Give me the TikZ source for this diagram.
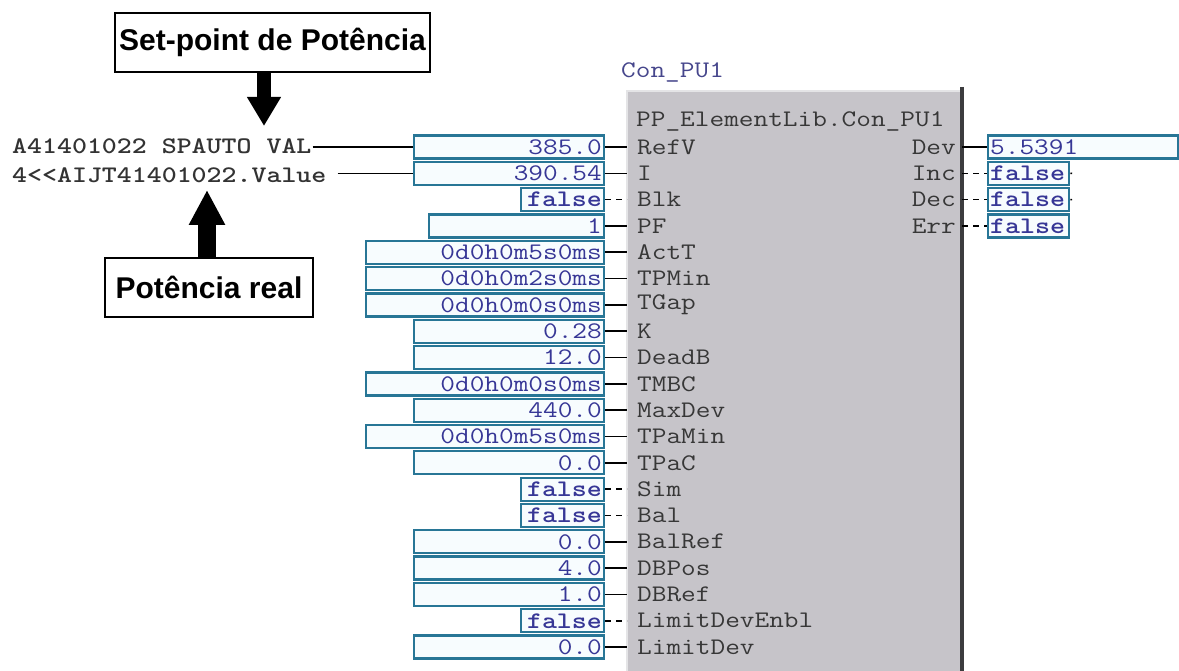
\documentclass[tikz,border=0pt]{standalone}
\usepackage{fontspec}
\usepackage{graphicx}
\newfontfamily\calloutfont{Liberation Sans}
\usetikzlibrary{arrows.meta}
\definecolor{boxborder}{RGB}{40,118,150}
\definecolor{boxfill}{RGB}{247,252,254}
\definecolor{valtext}{RGB}{55,55,150}
\definecolor{blockfill}{RGB}{198,196,201}
\definecolor{blockedge}{RGB}{228,228,230}
\definecolor{blockdark}{RGB}{60,60,62}
\definecolor{labeltext}{RGB}{55,55,55}
\definecolor{titletext}{RGB}{70,70,140}
\newcommand\mtx[1]{\scalebox{1.14}[0.95]{#1}}
\begin{document}
\begin{tikzpicture}[x=1pt,y=-1pt,
  monofont/.style={font=\fontsize{25}{25}\selectfont\ttfamily},
  vbox/.style={draw=boxborder, line width=2.3pt, fill=boxfill, minimum height=23pt,
    inner xsep=2pt, inner ysep=0pt, text=valtext, monofont},
  lbl/.style={text=labeltext, monofont, inner sep=0pt},
  conn/.style={draw=black, line width=1.6pt},
  sig/.style={dash pattern=on 6pt off 5pt},
  callout/.style={draw=black, line width=1.8pt, fill=white, inner sep=0pt,
    font=\calloutfont\bfseries\fontsize{30}{30}\selectfont},
  bigarrow/.style={draw=black, line width=14pt},
  blkbox/.style={fill=blockfill, draw=none, inner sep=0pt}
]
\path[use as bounding box] (0,0) rectangle (1179,671);
\clip (0,0) rectangle (1179,671);
\fill[white] (0,0) rectangle (1179,671);

% function block
\node[blkbox, anchor=north west, minimum width=335pt, minimum height=620pt] (blk) at (627,91) {};
\draw[blockedge, line width=2pt] (blk.south west) -- (blk.north west) -- (blk.north east);
\draw[blockdark, line width=4pt] ([yshift=4pt]blk.north east) -- (blk.south east);
\node[lbl, text=titletext, anchor=west] (title) at (621,72) {\mtx{Con\_PU1}};
\node[lbl, anchor=west] (head) at (636,121) {\mtx{PP\_ElementLib.Con\_PU1}};

% inputs
\foreach \i/\L/\v/\lab/\st in {
  0/415/385.0/RefV/solid,
  1/415/390.54/I/solid,
  2/522/\textbf{false}/Blk/sig,
  3/430/1/PF/solid,
  4/367/0d0h0m5s0ms/ActT/solid,
  5/367/0d0h0m2s0ms/TPMin/solid,
  6/367/0d0h0m0s0ms/TGap/solid,
  7/415/0.28/K/solid,
  8/415/12.0/DeadB/solid,
  9/367/0d0h0m0s0ms/TMBC/solid,
  10/415/440.0/MaxDev/solid,
  11/367/0d0h0m5s0ms/TPaMin/solid,
  12/415/0.0/TPaC/solid,
  13/522/\textbf{false}/Sim/sig,
  14/522/\textbf{false}/Bal/sig,
  15/415/0.0/BalRef/solid,
  16/415/4.0/DBPos/solid,
  17/415/1.0/DBRef/solid,
  18/522/\textbf{false}/LimitDevEnbl/sig,
  19/415/0.0/LimitDev/solid}{
  \pgfmathsetmacro\yy{147+26.32*\i}
  \pgfmathsetmacro\tw{605-\L-4}
  \node[vbox, anchor=east, text width=\tw pt, align=right] (v\i) at (605,\yy) {\mtx{\v}};
  \node[lbl, anchor=west] (l\i) at (637,\yy) {\mtx{\lab}};
  \draw[conn,\st] (v\i.east) -- (v\i.east -| blk.west);
}

% external sources
\node[lbl, anchor=west, text=black!80, inner xsep=1pt] (src1) at (11,146) {\mtx{\bfseries A41401022 SPAUTO VAL}};
\node[lbl, anchor=west, text=black!80, inner xsep=1pt] (src2) at (11,175) {\mtx{\bfseries 4<{}<AIJT41401022.Value}};
\draw[conn] (src1.east |- v0.west) -- (v0.west);
\draw[conn] ([xshift=10pt]src2.east |- v1.west) -- (v1.west);

% outputs
\node[vbox, anchor=west, text width=186pt, align=left] (dev) at (987,147) {\mtx{5.5391}};
\draw[conn] (blk.east |- dev.west) -- (dev.west);
\coordinate (devout) at (1181,147);
\draw[conn] (dev.east) -- (devout);
\node[lbl, anchor=east] (ldev) at (956,147) {\mtx{Dev}};
\foreach \j/\lab in {1/Inc,2/Dec,3/Err}{
  \pgfmathsetmacro\yy{147+26.32*\j}
  \node[vbox, anchor=west, text width=77pt, align=left] (o\j) at (987,\yy) {\mtx{\textbf{false}}};
  \draw[conn,sig] (blk.east |- o\j.west) -- (o\j.west);
  \node[lbl, anchor=east] (lo\j) at (956,\yy) {\mtx{\lab}};
}
\coordinate (incout) at (1072,173.3);
\coordinate (decout) at (1072,199.6);
\draw[conn] (o1.east) -- (incout);
\draw[conn] (o2.east) -- (decout);

% callouts
\node[callout, minimum width=315pt, minimum height=59pt] (sp) at (272.5,42.5) {Set-point de Potência};
\node[callout, minimum width=208pt, minimum height=59pt] (pr) at (209,287.5) {Potência real};
\coordinate (a1) at (264,126);
\coordinate (a2) at (207,190);
\draw[bigarrow, line width=14pt, -{Triangle[length=29pt,width=32pt]}] (sp.south -| a1) -- (a1);
\draw[bigarrow, line width=18pt, -{Triangle[length=35pt,width=34pt]}] (pr.north -| a2) -- (a2);
\end{tikzpicture}
\end{document}
